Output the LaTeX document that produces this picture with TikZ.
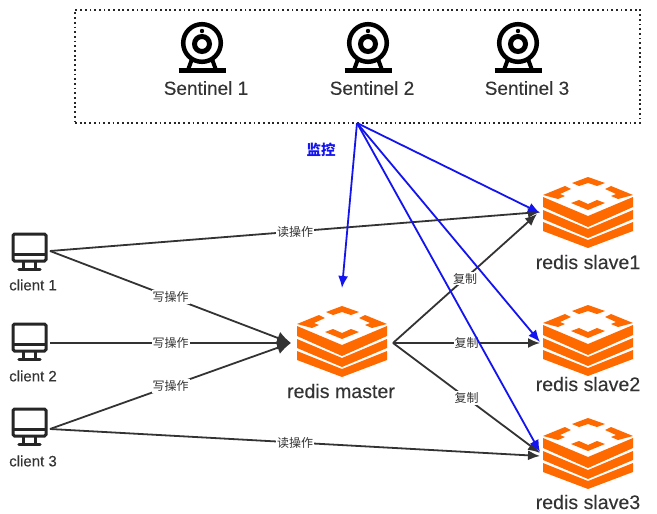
\documentclass[tikz,border=0pt]{standalone}
\usepackage{fontspec}
\setmainfont{Liberation Sans}
\newfontfamily\labelfont[FakeBold=0.2]{Liberation Sans}
\newfontfamily\cjk{Noto Sans CJK SC}
\usetikzlibrary{arrows.meta}
\definecolor{redisorange}{RGB}{255,106,0}
\definecolor{inkgray}{RGB}{51,51,51}
\definecolor{linkblue}{RGB}{20,20,240}
\tikzset{
    linkarrow/.style={draw=inkgray,line width=1.8pt,-{Latex[length=12pt,width=10pt]}},
    bigarrow/.style={draw=inkgray,line width=1.8pt,-{Latex[length=14pt,width=13pt]}},
    watcharrow/.style={draw=linkblue,line width=1.8pt,-{Latex[length=12pt,width=10pt]}},
    oplabel/.style={fill=white,inner sep=1pt,text=inkgray,font=\cjk\fontsize{12}{12}\selectfont},
    sentinellabel/.style={text=inkgray,font=\labelfont\fontsize{19}{20}\selectfont},
    redislabel/.style={text=inkgray,font=\labelfont\fontsize{19.6}{20}\selectfont},
    clientlabel/.style={text=inkgray,font=\labelfont\fontsize{15}{16}\selectfont},
    redisicon/.pic={
        \fill[redisorange] (-16,6) -- (0,0) -- (17,6) -- (9,9) -- (0,6) -- (-9,9) -- cycle;
        \fill[redisorange] (-45,18) -- (-23,9) -- (-17,12) -- (-28,17) -- (-23,19) -- (-30,22) -- cycle;
        \fill[redisorange] (45,18) -- (23,9) -- (17,12) -- (28,17) -- (23,19) -- (30,22) -- cycle;
        \fill[redisorange] (-17,26) -- (-9,23) -- (0,27) -- (9,23) -- (17,26) -- (0,33) -- cycle;
        \fill[redisorange] (-45,20) -- (0,39) -- (45,20) -- (45,30) -- (0,50) -- (-45,30) -- cycle;
        \fill[redisorange] (-45,33) -- (0,52) -- (45,33) -- (45,42) -- (0,61) -- (-45,42) -- cycle;
        \fill[redisorange] (-45,45) -- (0,63) -- (45,45) -- (45,54) -- (0,71) -- (-45,54) -- cycle;
    },
    sentinelicon/.pic={
        \draw[line width=4.5pt] (0,0) circle (18.8);
        \draw[line width=5pt] (0,1) circle (7.5);
        \fill (0,-12) circle (2.2);
        \draw[line width=4pt] (-10,16) -- (-14,27);
        \draw[line width=4pt] (10,16) -- (14,27);
        \draw[line width=4.4pt] (-23.5,27.5) -- (23.5,27.5);
    },
    clienticon/.pic={
        \draw[line width=3pt,rounded corners=1.5pt,draw=black!85] (-16.5,0) rectangle (16.5,27);
        \draw[line width=3pt,draw=black!85] (-16.5,20) -- (16.5,20);
        \draw[line width=2.8pt,draw=black!85] (-6,27) -- (-6,35);
        \draw[line width=2.8pt,draw=black!85] (6,27) -- (6,35);
        \draw[line width=3.2pt,line cap=round,draw=black!85] (-10.5,35.5) -- (10.5,35.5);
    }
}
\begin{document}
\begin{tikzpicture}[x=1pt,y=-1pt]
    \useasboundingbox (0,0) rectangle (657,514);

    % sentinels
    \node[draw=black!85,line width=1.8pt,dash pattern=on 1.8pt off 2.9pt,minimum width=565pt,minimum height=113pt,inner sep=0pt] (box) at (357.5,66.5) {};
    \pic at (202,43) {sentinelicon};
    \pic at (368,43) {sentinelicon};
    \pic at (518,43) {sentinelicon};
    \node[sentinellabel] (sentinel1) at (206,88) {Sentinel 1};
    \node[sentinellabel] (sentinel2) at (372,88) {Sentinel 2};
    \node[sentinellabel] (sentinel3) at (527,88) {Sentinel 3};
    \node[text=linkblue,font=\cjk\bfseries\fontsize{14.5}{15}\selectfont] (watch) at (321,150) {监控};

    % redis
    \pic at (342,306) {redisicon};
    \pic at (588,177) {redisicon};
    \pic at (588,305) {redisicon};
    \pic at (588,418) {redisicon};
    \node[redislabel] (master) at (341,391) {redis master};
    \node[redislabel] (slave1) at (588,262) {redis slave1};
    \node[redislabel] (slave2) at (588,384) {redis slave2};
    \node[redislabel] (slave3) at (588,502) {redis slave3};

    % clients
    \pic at (29.5,234) {clienticon};
    \pic at (29.5,324) {clienticon};
    \pic at (29.5,409) {clienticon};
    \node[clientlabel] (client1) at (33,285) {client 1};
    \node[clientlabel] (client2) at (33,376) {client 2};
    \node[clientlabel] (client3) at (33,461) {client 3};

    % connector ends
    \coordinate (top) at (357,123);
    \coordinate (c1) at (50,251);
    \coordinate (c2) at (50,343);
    \coordinate (c3) at (50,429);
    \coordinate (min) at (291,343);
    \coordinate (mtop) at (342,288);
    \coordinate (mout) at (393,343);
    \coordinate (s1a) at (540,212);
    \coordinate (s1b) at (537,214);
    \coordinate (s1w) at (540,213);
    \coordinate (s2a) at (540,343);
    \coordinate (s2w) at (540,342);
    \coordinate (s3a) at (540,456);
    \coordinate (s3b) at (540,453);
    \coordinate (s3w) at (540,452);

    \draw[linkarrow] (c1) -- (s1a) node[oplabel,pos=0.5] (read1) {读操作};
    \draw[bigarrow] (c1) -- (min) node[oplabel,pos=0.5] (write1) {写操作};
    \draw[bigarrow] (c2) -- (min) node[oplabel,pos=0.5] (write2) {写操作};
    \draw[bigarrow] (c3) -- (min) node[oplabel,pos=0.5] (write3) {写操作};
    \draw[linkarrow] (c3) -- (s3a) node[oplabel,pos=0.5] (read2) {读操作};
    \draw[linkarrow] (mout) -- (s1b) node[oplabel,pos=0.5] (copy1) {复制};
    \draw[linkarrow] (mout) -- (s2a) node[oplabel,pos=0.5] (copy2) {复制};
    \draw[linkarrow] (mout) -- (s3b) node[oplabel,pos=0.5] (copy3) {复制};

    \draw[watcharrow] (top) -- (mtop);
    \draw[watcharrow] (top) -- (s1w);
    \draw[watcharrow] (top) -- (s2w);
    \draw[watcharrow] (top) -- (s3w);
\end{tikzpicture}
\end{document}
